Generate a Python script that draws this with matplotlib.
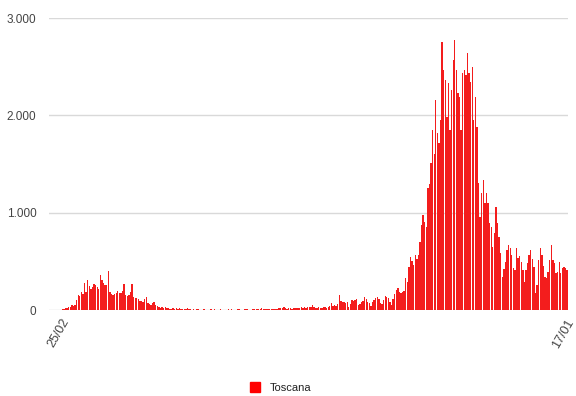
import datetime as dt
import matplotlib
matplotlib.use("Agg")
import matplotlib.pyplot as plt
from matplotlib.lines import Line2D
from matplotlib.transforms import offset_copy

# Daily new COVID-19 cases in Tuscany, 25/02/2020 - 17/01/2021
start_date = dt.date(2020, 2, 25)
region = "Toscana"
cases = [
    2, 0, 1, 3, 4, 3, 2, 5, 10, 12,                               # 0-9
    18, 25, 34, 30, 48, 45, 52, 103, 154, 144,                    # 10-19
    188, 165, 274, 188, 308, 250, 212, 240, 267, 255,             # 20-29
    240, 220, 360, 308, 280, 257, 257, 400, 188, 170,             # 30-39
    154, 165, 175, 199, 180, 171, 200, 267, 154, 144,             # 40-49
    150, 190, 267, 137, 125, 120, 110, 96, 90, 86,                # 50-59
    110, 130, 75, 60, 51, 70, 86, 55, 41, 35,                     # 60-69
    24, 30, 20, 27, 22, 18, 15, 14, 20, 16,                       # 70-79
    24, 12, 24, 10, 7, 9, 12, 24, 8, 6,                           # 80-89
    5, 7, 4, 6, 9, 5, 3, 6, 8, 4,                                 # 90-99
    5, 3, 6, 4, 7, 5, 3, 4, 6, 5,                                 # 100-109
    4, 3, 5, 7, 4, 6, 3, 5, 4, 6,                                 # 110-119
    8, 5, 4, 6, 15, 7, 5, 4, 6, 8,                                # 120-129
    5, 7, 9, 6, 18, 10, 7, 9, 8, 12,                              # 130-139
    12, 10, 14, 9, 15, 20, 18, 25, 30, 22,                        # 140-149
    14, 18, 25, 16, 20, 22, 18, 24, 20, 28,                       # 150-159
    24, 30, 26, 35, 28, 32, 51, 30, 24, 20,                       # 160-169
    35, 24, 18, 28, 30, 24, 30, 40, 68, 45,                       # 170-179
    51, 40, 60, 154, 90, 86, 86, 70, 79, 34,                      # 180-189
    60, 103, 95, 100, 110, 51, 60, 86, 90, 137,                   # 190-199
    110, 86, 70, 45, 80, 103, 120, 137, 110, 75,                  # 200-209
    60, 100, 147, 135, 120, 86, 51, 110, 160, 205,                # 210-219
    223, 188, 178, 188, 200, 325, 291, 445, 548, 500,             # 220-229
    462, 565, 520, 565, 700, 874, 976, 900, 857, 1250,            # 230-239
    1300, 1507, 1850, 1600, 2158, 1816, 1713, 1953, 2758, 2467,   # 240-249
    2364, 1987, 2330, 1850, 2261, 2569, 2775, 2467, 2227, 2193,   # 250-259
    1850, 2432, 2467, 2415, 2638, 2432, 2347, 2501, 1953, 2193,   # 260-269
    1884, 1302, 959, 1200, 1336, 1096, 1199, 1100, 891, 856,      # 270-279
    651, 788, 1062, 891, 754, 582, 343, 420, 497, 617,            # 280-289
    668, 640, 565, 428, 411, 634, 531, 560, 497, 411,             # 290-299
    291, 411, 480, 565, 617, 520, 445, 171, 257, 514,             # 300-309
    634, 565, 450, 343, 326, 394, 514, 668, 514, 480,             # 310-319
    377, 394, 497, 377, 428, 440, 428, 411,                       # 320-327
]
y_ticks = [0, 1000, 2000, 3000]
y_tick_labels = ["0", "1.000", "2.000", "3.000"]

dates = [start_date + dt.timedelta(days=k) for k in range(len(cases))]
x_tick_idx = [0, len(cases) - 1]
x_tick_labels = [dates[k].strftime("%d/%m") for k in x_tick_idx]
x_label_shift = [12, 3]  # points

plt.rcParams["font.family"] = ["Liberation Sans", "DejaVu Sans"]

fig = plt.figure(figsize=(5.76, 3.96), dpi=100)
ax = fig.add_axes([0.085, 0.217, 0.901, 0.7375])

positions = list(range(len(cases)))
ax.bar(positions, cases, width=0.86, color="#f31d1d", linewidth=0, zorder=2)

for t in y_ticks:
    ax.axhline(t, color="#d9d9d9", linewidth=1.0, zorder=1)

ax.set_xlim(-0.5, len(cases) - 0.5)
ax.set_ylim(0, 3000)
ax.set_yticks(y_ticks)
ax.set_yticklabels(y_tick_labels)
ax.tick_params(axis="y", length=0, pad=9, labelsize=8.5, labelcolor="#444444")
ax.set_xticks([])
for s in ax.spines.values():
    s.set_visible(False)

# slanted date labels at the first and last day
for k, lab, sh in zip(x_tick_idx, x_tick_labels, x_label_shift):
    tr = offset_copy(ax.get_xaxis_transform(), fig=fig, x=sh, y=-7, units="points")
    ax.text(k, 0, lab, transform=tr, rotation=60, rotation_mode="anchor",
            ha="right", va="center", fontsize=9, color="#444444")

handle = Line2D([], [], linestyle="none", marker="s", markersize=7.5,
                markerfacecolor="#ff0000", markeredgecolor="#ff0000")
fig.legend([handle], [region], loc="center", bbox_to_anchor=(0.482, 0.02),
           frameon=False, fontsize=8, handletextpad=0.3, labelcolor="#222222")

fig.savefig("out.png", dpi=100, facecolor="white")
